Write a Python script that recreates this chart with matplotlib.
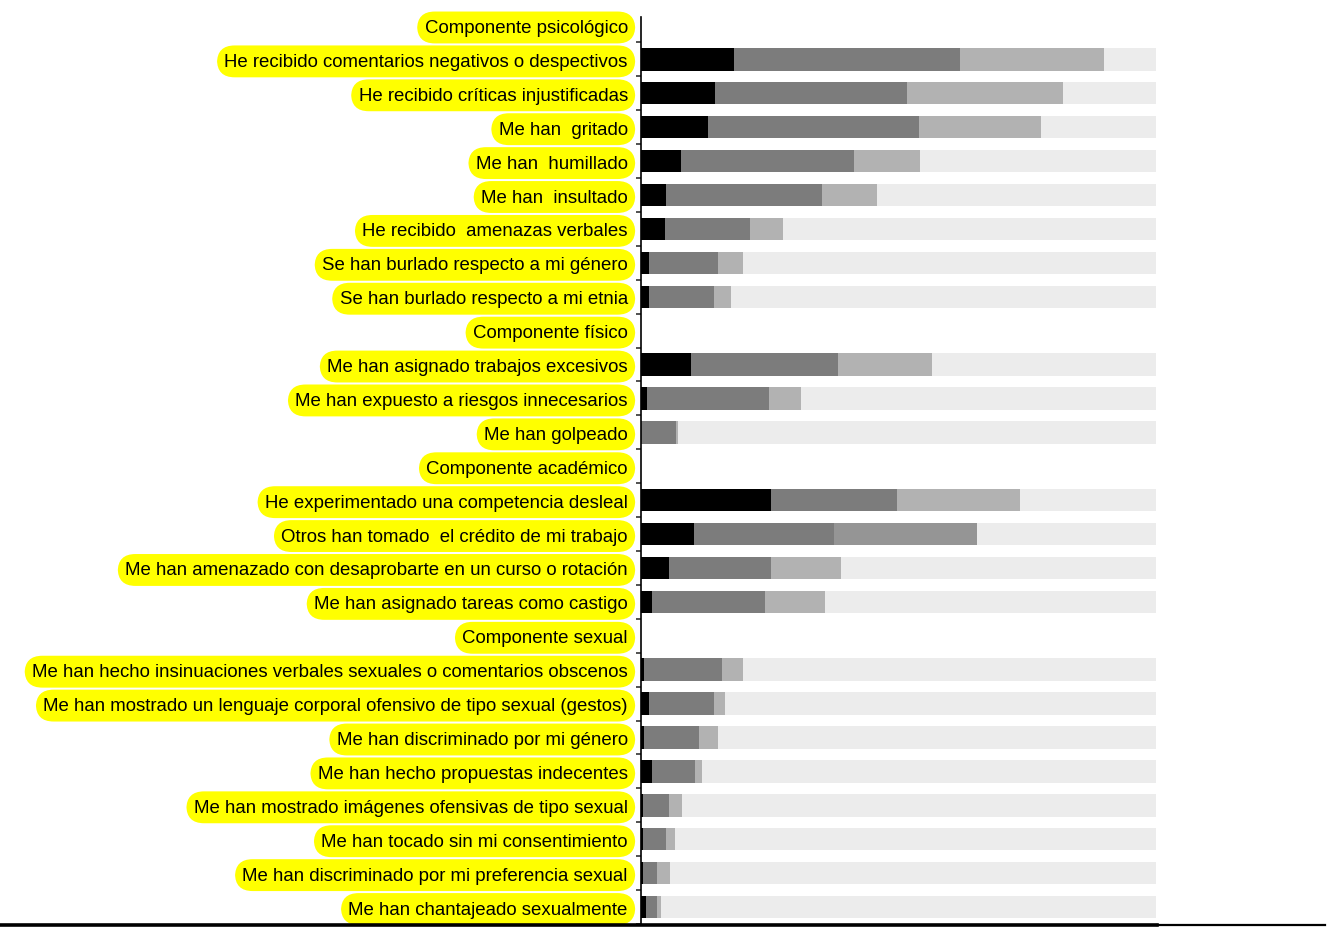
import numpy as np
import matplotlib.pyplot as plt
from matplotlib.lines import Line2D

plt.rcParams['font.family'] = ['Liberation Sans', 'DejaVu Sans']

# rows from top to bottom; header rows carry no bar
headers = ['Componente psicológico', 'Componente físico',
           'Componente académico', 'Componente sexual']

labels = [
    'Componente psicológico',
    'He recibido comentarios negativos o despectivos',
    'He recibido críticas injustificadas',
    'Me han  gritado',
    'Me han  humillado',
    'Me han  insultado',
    'He recibido  amenazas verbales',
    'Se han burlado respecto a mi género',
    'Se han burlado respecto a mi etnia',
    'Componente físico',
    'Me han asignado trabajos excesivos',
    'Me han expuesto a riesgos innecesarios',
    'Me han golpeado',
    'Componente académico',
    'He experimentado una competencia desleal',
    'Otros han tomado  el crédito de mi trabajo',
    'Me han amenazado con desaprobarte en un curso o rotación',
    'Me han asignado tareas como castigo',
    'Componente sexual',
    'Me han hecho insinuaciones verbales sexuales o comentarios obscenos',
    'Me han mostrado un lenguaje corporal ofensivo de tipo sexual (gestos)',
    'Me han discriminado por mi género',
    'Me han hecho propuestas indecentes',
    'Me han mostrado imágenes ofensivas de tipo sexual',
    'Me han tocado sin mi consentimiento',
    'Me han discriminado por mi preferencia sexual',
    'Me han chantajeado sexualmente',
]

# percentages per frequency level (header rows = 0)
seg1 = [0, 18.1, 14.4, 13.0, 7.7, 4.8, 4.6, 1.5, 1.5,
        0, 9.7, 1.2, 0.0,
        0, 25.3, 10.2, 5.4, 2.1,
        0, 0.6, 1.6, 0.6, 2.1, 0.4, 0.4, 0.4, 0.9]
seg2 = [0, 43.8, 37.3, 41.0, 33.7, 30.4, 16.5, 13.4, 12.6,
        0, 28.6, 23.7, 6.7,
        0, 24.5, 27.2, 19.9, 21.9,
        0, 15.1, 12.6, 10.6, 8.4, 5.0, 4.5, 2.8, 2.3]
seg3 = [0, 28.0, 30.3, 23.6, 12.8, 10.6, 6.5, 5.0, 3.3,
        0, 18.3, 6.1, 0.4,
        0, 23.8, 27.8, 13.5, 11.8,
        0, 4.1, 2.2, 3.7, 1.4, 2.5, 1.7, 2.5, 0.6]

s1 = np.array(seg1)
s2 = np.array(seg2)
s3 = np.array(seg3)
is_header = np.array([l in headers for l in labels])
s4 = np.where(is_header, 0, 100 - s1 - s2 - s3)

y = np.arange(len(labels))
c3 = ['#959595' if l.startswith('Otros han') else '#b2b2b2' for l in labels]

fig = plt.figure(figsize=(13.34, 9.29), dpi=100)
ax = fig.add_axes([641/1334, 1-926/929, (1156-641)/1334, (926-18)/929])

h = 0.66
ax.barh(y, s1, height=h, color='#000000')
ax.barh(y, s2, left=s1, height=h, color='#7c7c7c')
ax.barh(y, s3, left=s1+s2, height=h, color=c3)
ax.barh(y, s4, left=s1+s2+s3, height=h, color='#ececec')

ax.set_xlim(0, 100)
ax.set_ylim(26.53, -0.25)

for sp in ['top', 'right', 'bottom']:
    ax.spines[sp].set_visible(False)
ax.spines['left'].set_linewidth(1.2)
ax.set_xticks([])

ax.set_yticks(y)
ax.set_yticklabels(labels, fontsize=13.4)
ax.tick_params(axis='y', which='major', length=0, pad=9.5)
ax.set_yticks(np.arange(len(labels)) + 0.5, minor=True)
ax.tick_params(axis='y', which='minor', length=3.5, width=1.1, color='#222222')

for t in ax.get_yticklabels():
    t.set_bbox(dict(boxstyle='round,pad=0.4,rounding_size=0.95',
                    facecolor='#ffff00', edgecolor='none'))

# bottom rule across the page
fig.add_artist(Line2D([0, 1157/1334], [1-926/929]*2, color='black', lw=2.6))
fig.add_artist(Line2D([1157/1334, 1325/1334], [1-926/929]*2, color='black', lw=1.6))

plt.savefig('out.png', dpi=100)
